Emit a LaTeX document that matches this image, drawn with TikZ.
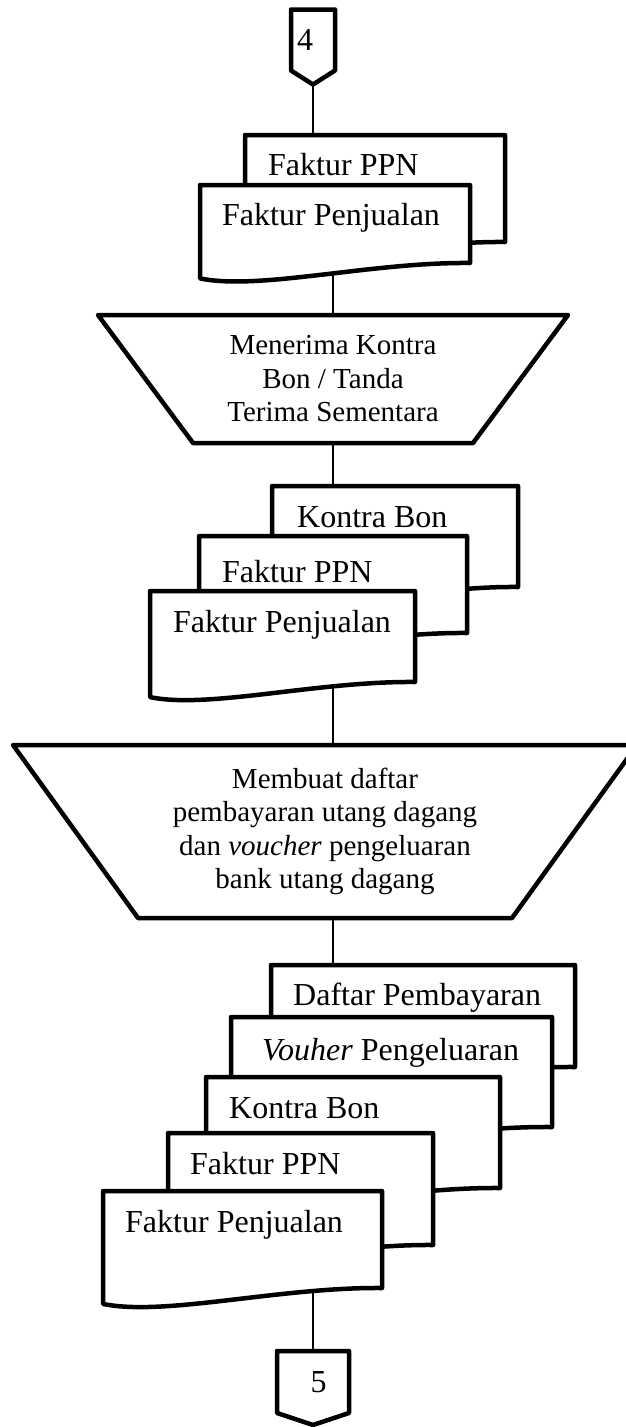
\documentclass[tikz,border=0pt]{standalone}
\usepackage{fontspec}
\setmainfont{Liberation Serif}
\usetikzlibrary{calc}
\pgfdeclarelayer{connectors}
\pgfsetlayers{connectors,main}

\tikzset{
  frame/.style={rectangle, draw=none, inner sep=0pt, outer sep=0pt},
  outline/.style={draw=black, line width=4.5pt, line join=round},
  paperline/.style={outline, fill=white},
  flow/.style={draw=black, line width=1.6pt},
  doctext/.style={inner sep=0pt, font=\fontsize{32}{38}\selectfont},
  steptext/.style={frame, align=center, font=\fontsize{29}{33.5}\selectfont},
}

% document symbol: name, left x, top y, right x, y of the lower right corner
\newcommand\paperdoc[5]{%
  \pgfmathsetmacro\docW{#4-#2}%
  \pgfmathsetmacro\docH{#5-#3}%
  \pgfmathsetmacro\docD{0.057*\docW}%
  \pgfmathsetmacro\docYL{#5+\docD}%
  \pgfmathsetmacro\docXA{#2+0.63*\docW}%
  \pgfmathsetmacro\docYA{#5-1}%
  \pgfmathsetmacro\docXB{#2+0.22*\docW}%
  \pgfmathsetmacro\docYB{\docYL+0.8*\docD}%
  \node[frame, minimum width=\docW pt, minimum height=\docH pt, anchor=north west] (#1) at (#2,#3) {};%
  \draw[paperline] (#1.north west) -- (#1.north east) -- (#1.south east)
    .. controls (\docXA,\docYA) and (\docXB,\docYB) .. (#2,\docYL) -- cycle;%
}

\begin{document}
\begin{tikzpicture}[x=1pt, y=-1pt]
\useasboundingbox (0,0) rectangle (626,1427);

% off-page connector 4
\node[frame, minimum width=44pt, minimum height=61pt, anchor=north] (c4) at (313,9.5) {};
\coordinate (c4tip) at ($(c4.south)+(0,14)$);
\draw[outline] (c4.north west) -- (c4.north east) -- (c4.south east) -- (c4tip) -- (c4.south west) -- cycle;
\node[doctext, anchor=base] (n4) at (305,50) {4};

% first document set
\paperdoc{s1b}{245}{135}{505}{242}
\node[doctext, anchor=base west] (t1b) at (268,175) {Faktur PPN};
\paperdoc{s1a}{200}{185}{470}{263}
\node[doctext, anchor=base west] (t1a) at (222,225) {Faktur Penjualan};

% manual step 1
\node[steptext, minimum width=470pt, minimum height=128pt] (m1) at (333,379)
  {Menerima Kontra\\Bon / Tanda\\Terima Sementara};
\draw[outline] (m1.north west) -- (m1.north east) -- ($(m1.south east)+(-95,0)$)
  -- ($(m1.south west)+(95,0)$) -- cycle;

% second document set
\paperdoc{s2c}{272}{486}{518}{587}
\node[doctext, anchor=base west] (t2c) at (297,527) {Kontra Bon};
\paperdoc{s2b}{199}{536}{467}{633}
\node[doctext, anchor=base west] (t2b) at (222,582) {Faktur PPN};
\paperdoc{s2a}{150}{591}{415}{682}
\node[doctext, anchor=base west] (t2a) at (173,632) {Faktur Penjualan};

% manual step 2
\node[steptext, minimum width=624pt, minimum height=173pt] (m2) at (325,831.5)
  {Membuat daftar\\pembayaran utang dagang\\dan \textit{voucher} pengeluaran\\bank utang dagang};
\draw[outline] (m2.north west) -- (m2.north east) -- ($(m2.south east)+(-125,0)$)
  -- ($(m2.south west)+(125,0)$) -- cycle;

% third document set
\paperdoc{s3e}{271}{965}{575}{1067}
\node[doctext, anchor=base west] (t3e) at (293,1005) {Daftar Pembayaran};
\paperdoc{s3d}{231}{1017}{552}{1127}
\node[doctext, anchor=base west] (t3d) at (262,1060) {\textit{Vouher} Pengeluaran};
\paperdoc{s3c}{206}{1077}{500}{1188}
\node[doctext, anchor=base west] (t3c) at (229,1118) {Kontra Bon};
\paperdoc{s3b}{168}{1133}{433}{1245}
\node[doctext, anchor=base west] (t3b) at (190,1174) {Faktur PPN};
\paperdoc{s3a}{103}{1191}{382}{1288}
\node[doctext, anchor=base west] (t3a) at (125,1232) {Faktur Penjualan};

% off-page connector 5
\node[frame, minimum width=72pt, minimum height=62pt, anchor=north] (c5) at (313,1351) {};
\coordinate (c5tip) at ($(c5.south)+(0,12)$);
\draw[outline] (c5.north west) -- (c5.north east) -- (c5.south east) -- (c5tip) -- (c5.south west) -- cycle;
\node[doctext, anchor=base] (n5) at (318.5,1392) {5};

% flow lines
\begin{pgfonlayer}{connectors}
\draw[flow] (c4tip) -- (c4tip |- s1b.north);
\draw[flow] (m1.north) -- (m1.north |- s1a.south);
\draw[flow] (m1.south) -- (m1.south |- s2c.north);
\draw[flow] (m1.south |- s2a.south) -- (m1.south |- m2.north);
\draw[flow] (m1.south |- m2.south) -- (m1.south |- s3e.north);
\draw[flow] (c5.north) -- (c5.north |- s3a.south);
\end{pgfonlayer}
\end{tikzpicture}
\end{document}
